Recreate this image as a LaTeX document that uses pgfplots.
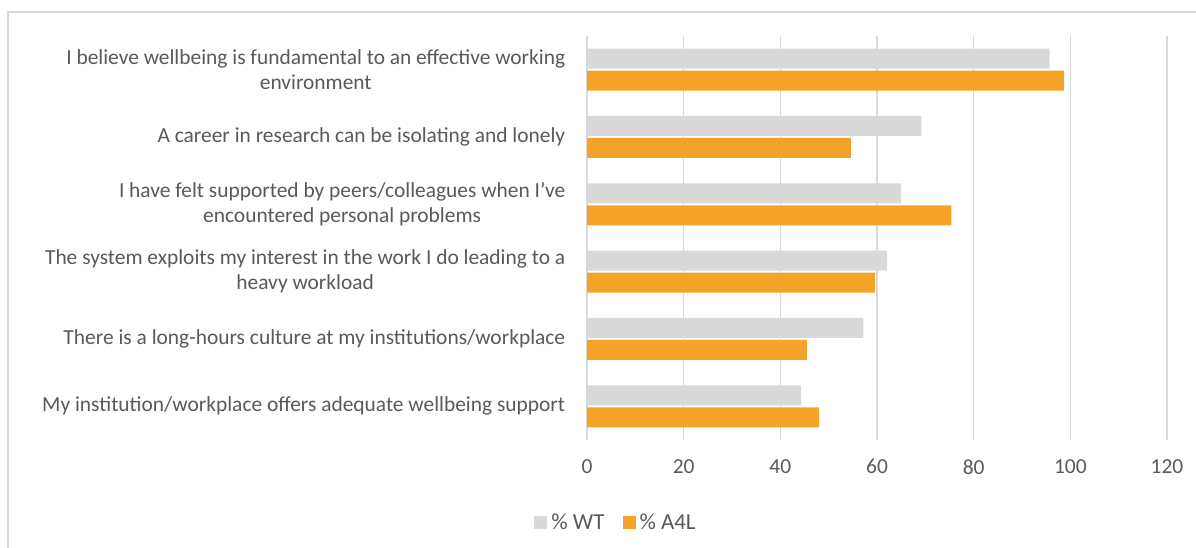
\documentclass[border=0pt]{standalone}
\usepackage{pgfplots}
\pgfplotsset{compat=1.18}
\usepackage{fontspec}
\setmainfont{Carlito}
\definecolor{wtc}{HTML}{D9D9D9}
\definecolor{a4l}{HTML}{F4A328}
\definecolor{txt}{HTML}{595959}
\begin{document}
\begin{tikzpicture}[x=1bp,y=1bp]
\useasboundingbox (0,0) rectangle (1196,548);
\draw[wtc, line width=1.5bp] (8,-10) -- (8,536) -- (1210,536);
\begin{axis}[
  at={(587bp,108bp)}, anchor=south west, scale only axis,
  width=580bp, height=404bp,
  xbar, bar width=20bp,
  xmin=0, xmax=120, xtick={0,20,...,120},
  ymin=-0.5, ymax=5.5, ytick={0,...,5},
  yticklabels={
    {My institution/workplace offers adequate wellbeing support},
    {There is a long-hours culture at my institutions/workplace},
    {The system exploits my interest in the work I do leading to a\\heavy workload},
    {I have felt supported by peers/colleagues when I’ve\\encountered personal problems},
    {A career in research can be isolating and lonely},
    {I believe wellbeing is fundamental to an effective working\\environment}},
  axis line style={draw=none},
  major tick style={draw=none},
  xmajorgrids, major grid style={wtc, line width=1.5bp},
  font=\fontsize{21.5}{25}\selectfont,
  ticklabel style={text=txt},
  /pgf/number format/assume math mode=true,
  yticklabel style={align=center, xshift=-14bp},
  xticklabel style={yshift=-16bp},
  legend style={at={(0.05,-0.203)}, anchor=center, draw=none, fill=none,
    legend columns=2, text=txt, font=\fontsize{23}{26}\selectfont,
    /tikz/every odd column/.append style={column sep=2bp},
    /tikz/every even column/.append style={column sep=16bp}},
  legend image code/.code={\fill[#1] (0bp,-6.5bp) rectangle (13bp,6.5bp);},
]
\addplot[fill=wtc, draw=none, bar shift=11bp] coordinates {
  (44.3,0) (57.2,1) (62.1,2) (65.0,3) (69.2,4) (95.7,5)};
\addplot[fill=a4l, draw=none, bar shift=-11bp] coordinates {
  (48.0,0) (45.5,1) (59.6,2) (75.4,3) (54.6,4) (98.7,5)};
\legend{\% WT, \% A4L}
\end{axis}
\end{tikzpicture}
\end{document}
